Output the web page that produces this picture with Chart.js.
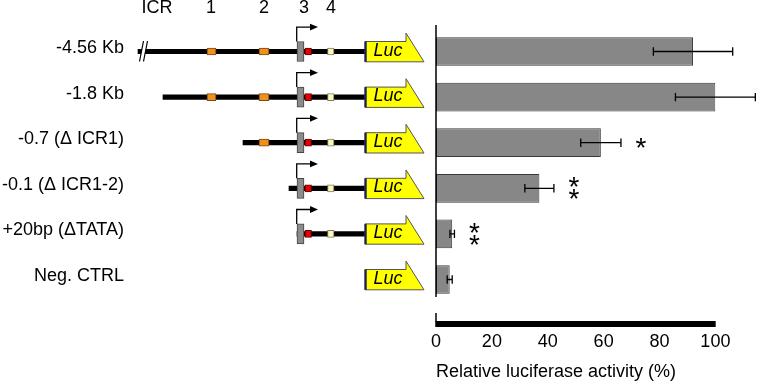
<!DOCTYPE html>
<html><head><meta charset="utf-8">
<script src="https://cdn.jsdelivr.net/npm/chart.js@4/dist/chart.umd.min.js"></script>
<style>
html,body{margin:0;padding:0;background:#fff}
#wrap{position:relative;width:759px;height:383px;overflow:hidden}
canvas{position:absolute;left:0;top:0}
</style>
</head><body>
<div id="wrap"><canvas id="left" width="759" height="383"></canvas><canvas id="right" width="759" height="383"></canvas></div>
<script>
// ---------------- data ----------------
const constructs = ['-4.56 Kb', '-1.8 Kb', '-0.7 (\u0394 ICR1)', '-0.1 (\u0394 ICR1-2)', '+20bp (\u0394TATA)', 'Neg. CTRL'];
const activity = [92, 100, 59, 37, 5.8, 4.9];          // relative luciferase activity (%)
const activityErr = [14.2, 14.3, 7.2, 5.2, 0.8, 0.9];  // error (+/-)
const significance = ['', '', '*', '**', '**', ''];
const xTickStep = 20;
const axisTitle = 'Relative luciferase activity (%)';

// schematic, in diagram units (transcription start = 0)
const constructStart = [-159, -134, -54, -8, 0, null];
const truncatedAt = [-153, null, null, null, null, null];
const elementNames = ['ICR1', 'ICR2', 'core', 'ICR3', 'ICR4'];
const elementFrom = [-90, -38, 0, 8, 30.5];
const elementTo = [-81, -28, 7, 14.5, 37];
const headerLabels = ['ICR', '1', '2', '3', '4'];
const headerAt = [-140, -86, -33, 7, 34];
const lucStart = 68, lucBodyEnd = 109, lucTip = 127;
const tssArrowEnd = 21;
const diagramMin = -161, diagramMax = 129;

// ---------------- styles ----------------
const FONT = "'Liberation Sans', Arial, Helvetica, sans-serif";
const TOP = 28.7, AXIS_H = 80.7;
const elementColors = ['#F0901F', '#F0901F', '#8C8C8C', '#E60000', '#FFF8B0'];
const elementBorders = ['#7a4a10', '#7a4a10', '#444444', '#600000', '#777777'];
const elementThickness = [7, 7, 20, 7, 7];

// ---------------- left: schematic ----------------
const schematicPlugin = {
  id: 'schematic',
  afterDatasetsDraw(chart) {
    const {ctx, chartArea} = chart;
    const x = chart.scales.x, y = chart.scales.y;
    ctx.save();
    ctx.font = '18px ' + FONT; ctx.fillStyle = '#000'; ctx.textAlign = 'center'; ctx.textBaseline = 'middle';
    headerLabels.forEach((t, k) => ctx.fillText(t, x.getPixelForValue(headerAt[k]), chartArea.top - 20.4));
    constructs.forEach((c, i) => {
      const cy = y.getPixelForValue(i);
      if (truncatedAt[i] !== null) {
        const bx = x.getPixelForValue(truncatedAt[i]);
        ctx.fillStyle = '#fff';
        ctx.beginPath();
        ctx.moveTo(bx - 4.5, cy + 10); ctx.lineTo(bx - 0.5, cy - 10.5);
        ctx.lineTo(bx + 3.5, cy - 10.5); ctx.lineTo(bx - 0.5, cy + 10);
        ctx.closePath(); ctx.fill();
        ctx.strokeStyle = '#000'; ctx.lineWidth = 1.2;
        ctx.beginPath();
        ctx.moveTo(bx - 4.5, cy + 10); ctx.lineTo(bx - 0.5, cy - 10.5);
        ctx.moveTo(bx - 0.5, cy + 10); ctx.lineTo(bx + 3.5, cy - 10.5);
        ctx.stroke();
      }
      const s = constructStart[i];
      if (s !== null && s <= elementFrom[2]) {
        const tx = x.getPixelForValue(elementFrom[2]) - 0.3;
        const tipX = x.getPixelForValue(tssArrowEnd);
        ctx.strokeStyle = '#000'; ctx.fillStyle = '#000'; ctx.lineWidth = 1.3;
        ctx.beginPath(); ctx.moveTo(tx, cy - 10); ctx.lineTo(tx, cy - 24.4); ctx.lineTo(tipX - 6, cy - 24.4); ctx.stroke();
        ctx.beginPath(); ctx.moveTo(tipX, cy - 24.4); ctx.lineTo(tipX - 8, cy - 27.8); ctx.lineTo(tipX - 8, cy - 21); ctx.closePath(); ctx.fill();
      }
      const x0 = x.getPixelForValue(lucStart), x1 = x.getPixelForValue(lucBodyEnd), x2 = x.getPixelForValue(lucTip);
      ctx.beginPath();
      ctx.moveTo(x0, cy - 10); ctx.lineTo(x1, cy - 10); ctx.lineTo(x1, cy - 18.4);
      ctx.lineTo(x2, cy + 10.3); ctx.lineTo(x0, cy + 10.3); ctx.closePath();
      ctx.fillStyle = '#FFFF00'; ctx.fill();
      ctx.strokeStyle = '#555'; ctx.lineWidth = 1; ctx.stroke();
      ctx.strokeStyle = '#1b1f5e'; ctx.lineWidth = 2.2;
      ctx.beginPath(); ctx.moveTo(x0 + 0.6, cy - 10); ctx.lineTo(x0 + 0.6, cy + 10.3); ctx.stroke();
      ctx.fillStyle = '#000'; ctx.font = 'italic 18px ' + FONT;
      ctx.fillText('Luc', (x0 + x1) / 2 + 2.5, cy - 1);
    });
    ctx.restore();
  }
};

const leftDatasets = [{
  label: 'backbone',
  data: constructStart.map(s => s === null ? null : [s, lucStart]),
  backgroundColor: '#000', borderWidth: 0, barThickness: 4.5, grouped: false, order: 10
}];
elementNames.forEach((n, e) => {
  leftDatasets.push({
    label: n,
    data: constructStart.map(s => (s !== null && s <= elementFrom[e]) ? [elementFrom[e], elementTo[e]] : null),
    backgroundColor: elementColors[e], borderColor: elementBorders[e], borderWidth: 1, borderSkipped: false,
    barThickness: elementThickness[e], grouped: false, order: e === 2 ? 5 : 1
  });
});

new Chart(document.getElementById('left'), {
  type: 'bar',
  data: { labels: constructs, datasets: leftDatasets },
  options: {
    indexAxis: 'y', responsive: false, animation: false, devicePixelRatio: 1,
    layout: { padding: { left: 0, right: 759 - 426, top: TOP, bottom: AXIS_H } },
    plugins: { legend: { display: false }, tooltip: { enabled: false } },
    scales: {
      x: { type: 'linear', display: false, min: diagramMin, max: diagramMax },
      y: {
        type: 'category',
        grid: { display: false, drawTicks: false }, border: { display: false },
        ticks: { color: '#000', font: { family: FONT, size: 18 }, padding: 12, labelOffset: -3.5 },
        afterFit(scale) { scale.width = 136; }
      }
    }
  },
  plugins: [schematicPlugin]
});

// ---------------- right: bar chart ----------------
const barExtras = {
  id: 'barExtras',
  afterDatasetsDraw(chart) {
    const {ctx, chartArea} = chart;
    const x = chart.scales.x, y = chart.scales.y;
    ctx.save();
    ctx.strokeStyle = '#000'; ctx.fillStyle = '#000';
    activity.forEach((v, i) => {
      const cy = y.getPixelForValue(i);
      const a = x.getPixelForValue(v - activityErr[i]), b = x.getPixelForValue(v + activityErr[i]);
      ctx.lineWidth = 1.3;
      ctx.beginPath();
      ctx.moveTo(a, cy); ctx.lineTo(b, cy);
      ctx.moveTo(a, cy - 4.2); ctx.lineTo(a, cy + 4.2);
      ctx.moveTo(b, cy - 4.2); ctx.lineTo(b, cy + 4.2);
      ctx.stroke();
      const stars = significance[i];
      if (stars) {
        ctx.font = '28px ' + FONT; ctx.textAlign = 'center'; ctx.textBaseline = 'alphabetic';
        const m = ctx.measureText('*');
        const off = (m.actualBoundingBoxAscent - m.actualBoundingBoxDescent) / 2;
        const sx = b + 20;
        const n = stars.length;
        for (let k = 0; k < n; k++) {
          const sy = cy + (k - (n - 1) / 2) * 12.3;
          ctx.fillText('*', sx, sy + off);
        }
      }
    });
    const x0 = x.getPixelForValue(0), x100 = x.getPixelForValue(100);
    ctx.lineWidth = 1.5;
    ctx.beginPath(); ctx.moveTo(x0, chartArea.top - 3.7); ctx.lineTo(x0, chartArea.bottom - 5.3); ctx.stroke();
    const ay = chartArea.bottom + 21.7;
    ctx.lineWidth = 6;
    ctx.beginPath(); ctx.moveTo(x0 - 0.75, ay); ctx.lineTo(x100 + 0.3, ay); ctx.stroke();
    ctx.lineWidth = 1.5;
    ctx.beginPath(); ctx.moveTo(x0, ay - 2); ctx.lineTo(x0, ay - 11); ctx.stroke();
    ctx.restore();
  }
};

new Chart(document.getElementById('right'), {
  type: 'bar',
  data: {
    labels: constructs,
    datasets: [{
      label: 'activity', data: activity,
      backgroundColor: '#878787', borderColor: '#3a3a3a', borderWidth: 1, borderSkipped: false,
      barPercentage: 0.63, categoryPercentage: 1
    }]
  },
  options: {
    indexAxis: 'y', responsive: false, animation: false, devicePixelRatio: 1,
    layout: { padding: { left: 436, right: 759 - 718, top: TOP, bottom: 0 } },
    plugins: { legend: { display: false }, tooltip: { enabled: false } },
    scales: {
      y: { type: 'category', display: false },
      x: {
        type: 'linear', min: 0, max: 100,
        grid: { display: false, drawTicks: false }, border: { display: false },
        ticks: { stepSize: xTickStep, color: '#000', font: { family: FONT, size: 18 }, padding: 28.6 },
        title: { display: true, text: axisTitle, align: 'start', color: '#000',
                 font: { family: FONT, size: 18 }, padding: { top: 0, bottom: 0.5 } },
        afterFit(scale) { scale.height = AXIS_H; }
      }
    }
  },
  plugins: [barExtras]
});
</script>
</body></html>
